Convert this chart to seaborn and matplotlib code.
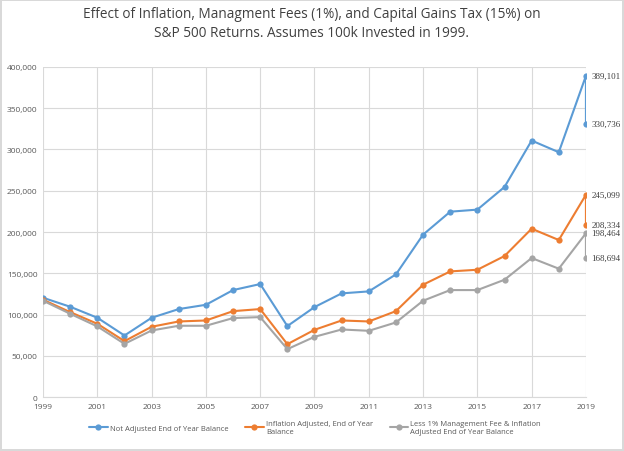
import pandas as pd
import seaborn as sns
import matplotlib.pyplot as plt
import matplotlib.ticker as mticker

sns.set_style("white")
plt.rcParams['font.family'] = ['Open Sans', 'DejaVu Sans']

# the last year shows up twice: before and after the 15% capital gains tax
years = list(range(1999, 2020)) + [2019]

not_adjusted = [120400, 109500, 96200, 74700, 96200, 106700, 111900, 129700, 137000, 86100,
                109100, 125700, 128100, 148700, 196800, 224600, 227100, 254500, 310700, 296600,
                389101, 330736]
inflation_adjusted = [118000, 103000, 88900, 67900, 85300, 91700, 92900, 104200, 106700, 64200,
                      81600, 92900, 91700, 104200, 136200, 152300, 154300, 170900, 204000, 190300,
                      245099, 208334]
fee_and_inflation = [116800, 101000, 85700, 64600, 80800, 86500, 86500, 95800, 97000, 58200,
                     73100, 82000, 80400, 90500, 116800, 129700, 129700, 142200, 168500, 155600,
                     198464, 168694]

series_names = ["Not Adjusted End of Year Balance",
                "Inflation Adjusted, End of Year\nBalance",
                "Less 1% Management Fee & Inflation\nAdjusted End of Year Balance"]
colors = ["#5B9BD5", "#ED7D31", "#A5A5A5"]

frames = []
for name, vals in zip(series_names, [not_adjusted, inflation_adjusted, fee_and_inflation]):
    frames.append(pd.DataFrame({"year": years, "balance": vals, "series": name}))
df = pd.concat(frames, ignore_index=True)

fig = plt.figure(figsize=(6.24, 4.52), dpi=100)
ax = fig.add_axes([0.069, 0.119, 0.870, 0.731])

sns.lineplot(data=df, x="year", y="balance", hue="series", palette=colors,
             estimator=None, sort=False, marker="o", markersize=4.5,
             markeredgewidth=0, linewidth=1.5, ax=ax)

# labels for the two end values of every series
for vals in [not_adjusted, inflation_adjusted, fee_and_inflation]:
    for v in vals[-2:]:
        ax.annotate(f"{v:,}", (2019, v), xytext=(4, 0), textcoords="offset points",
                    va="center", ha="left", fontsize=6.5, color="#404040",
                    family=["Liberation Serif", "DejaVu Serif"])

ax.set_xlim(1999, 2019)
ax.set_ylim(0, 400000)
ax.set_xticks(range(1999, 2020, 2))
ax.set_yticks(range(0, 400001, 50000))
ax.yaxis.set_major_formatter(mticker.FuncFormatter(lambda v, p: f"{int(v):,}"))
ax.grid(True, color="#D9D9D9", linewidth=0.8)
ax.set_axisbelow(True)
for s in ["top", "right", "left"]:
    ax.spines[s].set_visible(False)
ax.spines["bottom"].set_color("#D9D9D9")
ax.tick_params(axis="both", length=0, labelsize=6.0, labelcolor="#595959", pad=4)
ax.set_xlabel("")
ax.set_ylabel("")

handles, labels = ax.get_legend_handles_labels()
ax.legend(handles, labels, loc="center", bbox_to_anchor=(0.505, 0.052),
          bbox_transform=fig.transFigure, ncol=3, frameon=False, fontsize=5.5,
          labelcolor="#595959", handlelength=2.4, columnspacing=2.2, handletextpad=0.3)

fig.suptitle("Effect of Inflation, Managment Fees (1%), and Capital Gains Tax (15%) on\n"
             "S&P 500 Returns. Assumes 100k Invested in 1999.",
             y=0.985, fontsize=9.8, color="#404040", linespacing=1.4)

fig.patch.set_edgecolor("#D9D9D9")
fig.patch.set_linewidth(1.5)

fig.savefig("out.png", dpi=100, edgecolor=fig.get_edgecolor())
